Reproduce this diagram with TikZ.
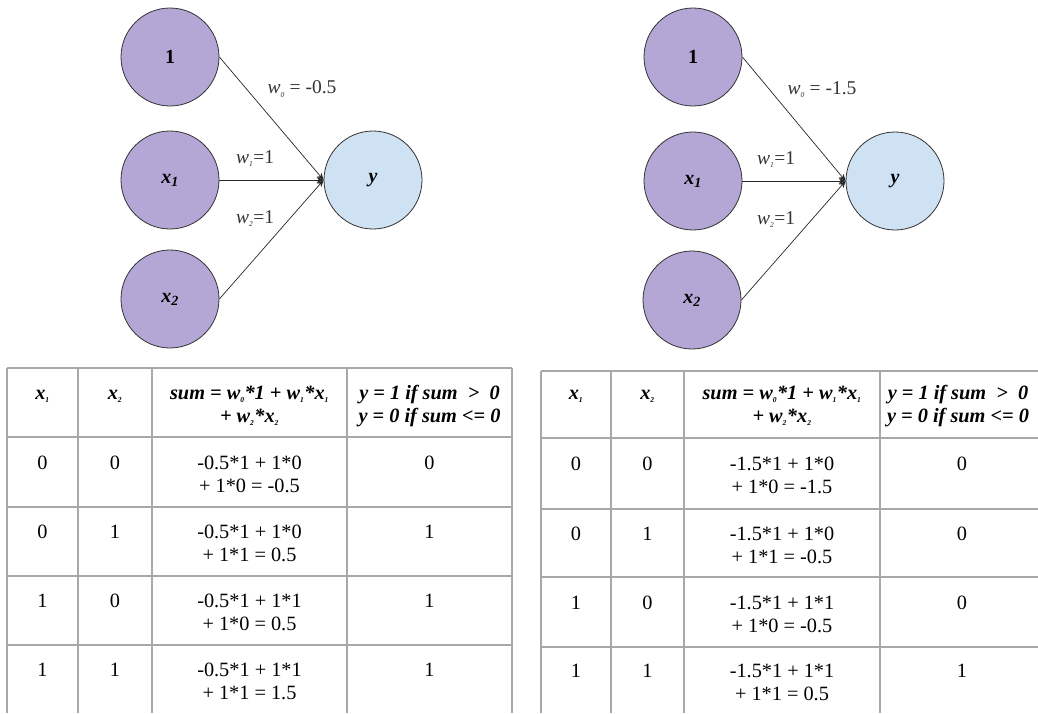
\documentclass[tikz,border=0pt]{standalone}
\usepackage{fontspec}
\setmainfont{Liberation Serif}
\usetikzlibrary{arrows.meta}
\definecolor{purp}{RGB}{180,167,214}
\definecolor{lblue}{RGB}{207,226,243}
\definecolor{tgray}{RGB}{168,168,168}
\newcommand\tsub[1]{\textsubscript{\fontsize{7.5}{7.5}\selectfont #1}}
\begin{document}
\begin{tikzpicture}[x=1pt,y=-1pt,
  neuron/.style={circle, draw=black!80, line width=0.8pt, minimum size=98pt, inner sep=0pt,
     font=\fontsize{20}{22}\selectfont\bfseries},
  inp/.style={neuron, fill=purp},
  outp/.style={neuron, fill=lblue},
  conn/.style={-{Stealth[length=7pt,width=6pt]}, line width=0.7pt, draw=black!85},
  wlab/.style={font=\fontsize{19.5}{22}\selectfont, text=black!80, inner sep=0pt},
  cell/.style={font=\fontsize{20.3}{23}\selectfont, align=center, anchor=north, yshift=9.2pt, inner sep=0pt},
  hcell/.style={cell, font=\fontsize{20.3}{23}\selectfont\bfseries\itshape},
  grid/.style={draw=tgray, line width=1.5pt}]
\useasboundingbox (0,0) rectangle (1038,713);

% ---------------- left network ----------------
\node[inp]  (a1)  at (170,57)  {1};
\node[inp]  (ax1) at (170,180) {\textit{x}\textsubscript{\itshape 1}};
\node[inp]  (ax2) at (170,299) {\textit{x}\textsubscript{\itshape 2}};
\node[outp] (ay)  at (373,180) {\textit{y}};
\draw[conn] (a1.east)  -- (ay.west);
\draw[conn] (ax1.east) -- (ay.west);
\draw[conn] (ax2.east) -- (ay.west);
\node[wlab] (aw0) at (302,89)  {\textit{w}\tsub{\itshape 0} = -0.5};
\node[wlab] (aw1) at (255,159) {\textit{w}\tsub{\itshape 1}=1};
\node[wlab] (aw2) at (255,219) {\textit{w}\tsub{\itshape 2}=1};

% ---------------- right network ----------------
\node[inp]  (b1)  at (693,57)  {1};
\node[inp]  (bx1) at (693,181) {\textit{x}\textsubscript{\itshape 1}};
\node[inp]  (bx2) at (692,300) {\textit{x}\textsubscript{\itshape 2}};
\node[outp] (by)  at (895,181) {\textit{y}};
\draw[conn] (b1.east)  -- (by.west);
\draw[conn] (bx1.east) -- (by.west);
\draw[conn] (bx2.east) -- (by.west);
\node[wlab] (bw0) at (822,90)  {\textit{w}\tsub{\itshape 0} = -1.5};
\node[wlab] (bw1) at (776,160) {\textit{w}\tsub{\itshape 1}=1};
\node[wlab] (bw2) at (776,220) {\textit{w}\tsub{\itshape 2}=1};

% ---------------- left table grid ----------------
\foreach \yy in {368,437,507,576,645} \draw[grid] (7,\yy) -- (512,\yy);
\foreach \xx in {7,78,152,347,512} \draw[grid] (\xx,368) -- (\xx,713);

% ---------------- right table grid ----------------
\foreach \yy in {371,438,509,577,647} \draw[grid] (541,\yy) -- (1038,\yy);
\foreach \xx in {541,611,684,880} \draw[grid] (\xx,371) -- (\xx,713);

% ---------------- left table text ----------------
\node[hcell] (Lh1) at (42.5,392) {\strut x\tsub{1}};
\node[hcell] (Lh2) at (115,392)  {\strut x\tsub{2}};
\node[hcell] (Lh3) at (249.5,392) {\strut sum = w\tsub{0}*1 + w\tsub{1}*x\tsub{1}\\+ w\tsub{2}*x\tsub{2}};
\node[hcell] (Lh4) at (429.5,392) {\strut y = 1 if sum \ > \ 0\\y = 0 if sum <= 0};

\node[cell] (L11) at (42.5,462) {\strut 0};
\node[cell] (L12) at (115,462)  {\strut 0};
\node[cell] (L13) at (249.5,462) {\strut -0.5*1 + 1*0\\+ 1*0 = -0.5};
\node[cell] (L14) at (429.5,462) {\strut 0};

\node[cell] (L21) at (42.5,531) {\strut 0};
\node[cell] (L22) at (115,531)  {\strut 1};
\node[cell] (L23) at (249.5,531) {\strut -0.5*1 + 1*0\\+ 1*1 = 0.5};
\node[cell] (L24) at (429.5,531) {\strut 1};

\node[cell] (L31) at (42.5,600) {\strut 1};
\node[cell] (L32) at (115,600)  {\strut 0};
\node[cell] (L33) at (249.5,600) {\strut -0.5*1 + 1*1\\+ 1*0 = 0.5};
\node[cell] (L34) at (429.5,600) {\strut 1};

\node[cell] (L41) at (42.5,669) {\strut 1};
\node[cell] (L42) at (115,669)  {\strut 1};
\node[cell] (L43) at (249.5,669) {\strut -0.5*1 + 1*1\\+ 1*1 = 1.5};
\node[cell] (L44) at (429.5,669) {\strut 1};

% ---------------- right table text ----------------
\node[hcell] (Rh1) at (576,392) {\strut x\tsub{1}};
\node[hcell] (Rh2) at (647.5,392) {\strut x\tsub{2}};
\node[hcell] (Rh3) at (782,392) {\strut sum = w\tsub{0}*1 + w\tsub{1}*x\tsub{1}\\+ w\tsub{2}*x\tsub{2}};
\node[hcell] (Rh4) at (958,392) {\strut y = 1 if sum \ > \ 0\\y = 0 if sum <= 0};

\node[cell] (R11) at (576,463) {\strut 0};
\node[cell] (R12) at (647.5,463) {\strut 0};
\node[cell] (R13) at (782,463) {\strut -1.5*1 + 1*0\\+ 1*0 = -1.5};
\node[cell] (R14) at (962,463) {\strut 0};

\node[cell] (R21) at (576,533) {\strut 0};
\node[cell] (R22) at (647.5,533) {\strut 1};
\node[cell] (R23) at (782,533) {\strut -1.5*1 + 1*0\\+ 1*1 = -0.5};
\node[cell] (R24) at (962,533) {\strut 0};

\node[cell] (R31) at (576,602) {\strut 1};
\node[cell] (R32) at (647.5,602) {\strut 0};
\node[cell] (R33) at (782,602) {\strut -1.5*1 + 1*1\\+ 1*0 = -0.5};
\node[cell] (R34) at (962,602) {\strut 0};

\node[cell] (R41) at (576,670) {\strut 1};
\node[cell] (R42) at (647.5,670) {\strut 1};
\node[cell] (R43) at (782,670) {\strut -1.5*1 + 1*1\\+ 1*1 = 0.5};
\node[cell] (R44) at (962,670) {\strut 1};
\end{tikzpicture}
\end{document}
